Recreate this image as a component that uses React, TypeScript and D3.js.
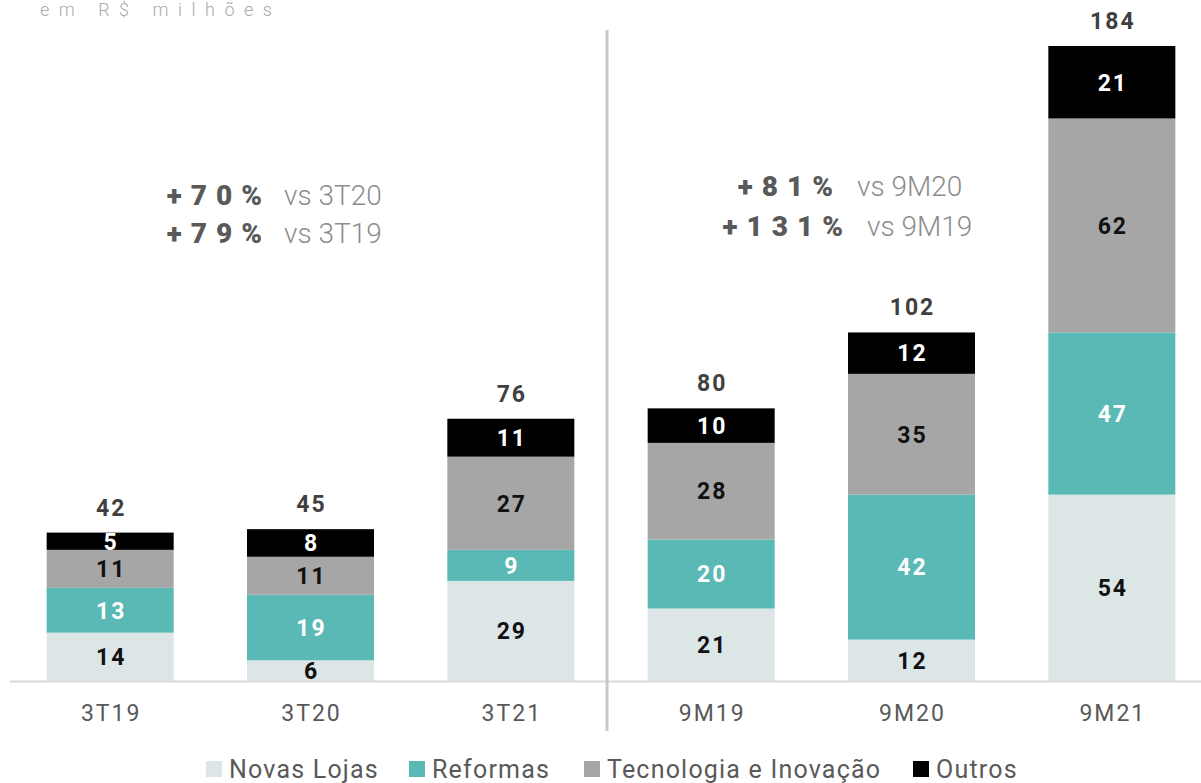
import * as d3 from "d3";

const categories = ["3T19", "3T20", "3T21", "9M19", "9M20", "9M21"];
const seriesNames = ["Novas Lojas", "Reformas", "Tecnologia e Inovação", "Outros"];
const novasLojas = [14, 6, 29, 21, 12, 54];
const reformas = [13, 19, 9, 20, 42, 47];
const tecnologia = [11, 11, 27, 28, 35, 62];
const outros = [5, 8, 11, 10, 12, 21];
const totals = [42, 45, 76, 80, 102, 184];

const colors = ["#dde6e7", "#5bb9b5", "#a6a6a6", "#000000"];
const labelColors = ["#111", "#fff", "#111", "#fff"];

const W = 1201;
const H = 783;
const BASE = 681;
const TOP = 46;

export default function App() {
  const series = [novasLojas, reformas, tecnologia, outros];
  const rows = categories.map((c, i) => ({
    cat: c,
    v0: novasLojas[i],
    v1: reformas[i],
    v2: tecnologia[i],
    v3: outros[i],
  }));
  const stack = d3.stack<any>().keys(["v0", "v1", "v2", "v3"])(rows);

  const x = d3
    .scaleBand()
    .domain(categories)
    .range([10, 1212])
    .paddingInner(0.366)
    .paddingOuter(0.183);
  const maxSum = d3.max(rows, (r) => r.v0 + r.v1 + r.v2 + r.v3) || 1;
  const y = d3.scaleLinear().domain([0, maxSum]).range([BASE, TOP]);

  const font = "Roboto, 'DejaVu Sans', sans-serif";
  const legendX = [206, 409, 584, 913];
  const pctSpacing = 9;

  return (
    <svg
      width={W}
      height={H}
      style={{ position: "absolute", left: 0, top: 0, background: "#fff" }}
      fontFamily={font}
    >
      <text x={40} y={16} fontSize={18} fill="#aaaaaa" letterSpacing={9.5} fontWeight={300}>
        em R$ milhões
      </text>

      {stack.map((layer, si) =>
        layer.map((d, i) => {
          const x0 = x(categories[i])!;
          const y0 = y(d[1]);
          const y1 = y(d[0]);
          return (
            <g key={`${si}-${i}`}>
              <rect x={x0} y={y0} width={x.bandwidth()} height={y1 - y0} fill={colors[si]} />
              <text
                x={x0 + x.bandwidth() / 2 + 1}
                y={(y0 + y1) / 2}
                dy="0.36em"
                textAnchor="middle"
                fontSize={23}
                fontWeight={700}
                letterSpacing={2}
                fill={labelColors[si]}
              >
                {series[si][i]}
              </text>
            </g>
          );
        })
      )}

      {categories.map((c, i) => (
        <g key={c}>
          <text
            x={x(c)! + x.bandwidth() / 2 + 1}
            y={y(stack[3][i][1]) - 17}
            textAnchor="middle"
            fontSize={23}
            fontWeight={700}
            letterSpacing={2}
            fill="#404040"
          >
            {totals[i]}
          </text>
          <text
            x={x(c)! + x.bandwidth() / 2 + 1}
            y={721}
            textAnchor="middle"
            fontSize={23}
            letterSpacing={2}
            fill="#595959"
          >
            {c}
          </text>
        </g>
      ))}

      <line x1={10} x2={W} y1={BASE + 0.5} y2={BASE + 0.5} stroke="#d9d9d9" strokeWidth={2} />
      <line x1={607} x2={607} y1={30} y2={731} stroke="#c8c8c8" strokeWidth={3} />

      <g fontSize={28}>
        <text x={262 + pctSpacing} y={205} textAnchor="end" fontWeight={900} fill="#595959" letterSpacing={pctSpacing}>
          +70%
        </text>
        <text x={284} y={205} fill="#8c8c8c" fontWeight={300}>vs 3T20</text>
        <text x={262 + pctSpacing} y={243} textAnchor="end" fontWeight={900} fill="#595959" letterSpacing={pctSpacing}>
          +79%
        </text>
        <text x={284} y={243} fill="#8c8c8c" fontWeight={300}>vs 3T19</text>

        <text x={833 + pctSpacing} y={196} textAnchor="end" fontWeight={900} fill="#595959" letterSpacing={pctSpacing}>
          +81%
        </text>
        <text x={857} y={196} fill="#8c8c8c" fontWeight={300}>vs 9M20</text>
        <text x={843 + pctSpacing} y={236} textAnchor="end" fontWeight={900} fill="#595959" letterSpacing={pctSpacing}>
          +131%
        </text>
        <text x={867} y={236} fill="#8c8c8c" fontWeight={300}>vs 9M19</text>
      </g>

      {seriesNames.map((n, i) => (
        <g key={n}>
          <rect x={legendX[i]} y={761} width={16} height={16} fill={colors[i]} />
          <text x={legendX[i] + 23} y={778} fontSize={25} letterSpacing={1.2} fill="#595959">
            {n}
          </text>
        </g>
      ))}
    </svg>
  );
}
